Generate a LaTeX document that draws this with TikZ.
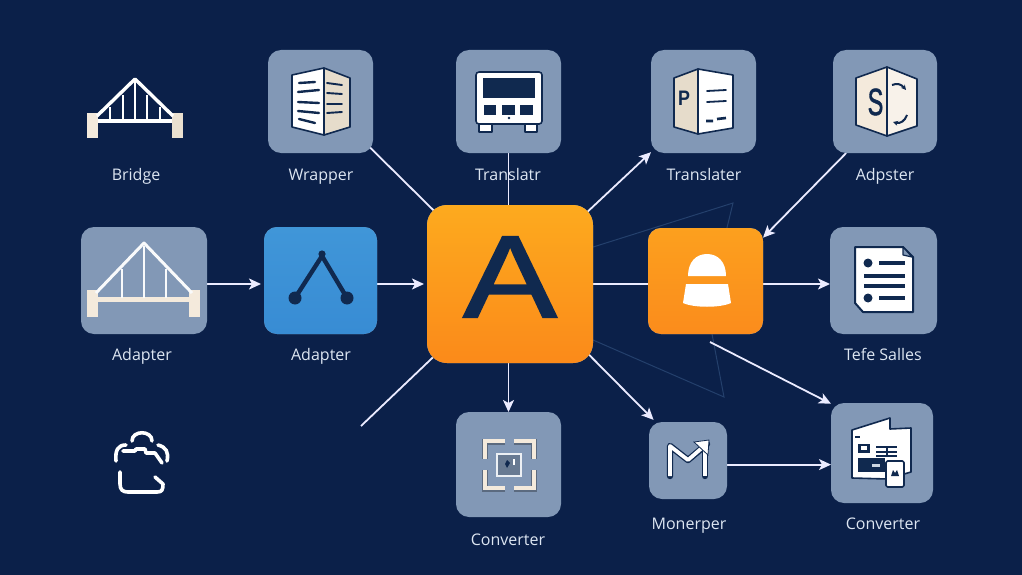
\documentclass[tikz,border=0pt]{standalone}
\usepackage{fontspec}
\setmainfont{Open Sans}
\newfontfamily\bigfont{Liberation Sans}
\newfontfamily\boldico{Liberation Sans}[FakeBold=1.5]
\usetikzlibrary{arrows.meta,backgrounds}
\definecolor{bgnavy}{HTML}{0B2049}
\definecolor{tilegrey}{HTML}{8298B6}
\definecolor{ink}{HTML}{10294F}
\definecolor{cream}{HTML}{F4EADC}
\definecolor{sand}{HTML}{E6DCCB}
\definecolor{labelc}{HTML}{DDE6F2}
\definecolor{faintc}{HTML}{24406C}
\definecolor{bluetop}{HTML}{4096D8}
\definecolor{bluebot}{HTML}{388CD4}
\definecolor{maintop}{HTML}{FDAA1E}
\definecolor{mainbot}{HTML}{FB8A1A}
\definecolor{oratop}{HTML}{FCA01E}
\definecolor{orabot}{HTML}{FB8C1C}
\tikzset{
  x=1pt,y=-1pt,
  tile/.style={rectangle,rounded corners=13pt,inner sep=0pt,outer sep=0pt,fill=tilegrey},
  lbl/.style={text=labelc,font=\fontsize{16}{16}\selectfont,inner sep=0pt,anchor=base},
  conn/.style={draw=white!92!blue,line width=1.8pt},
  arr/.style={conn,-{Stealth[length=12pt,width=11pt,inset=3pt]}},
  faint/.style={draw=faintc,line width=1pt},
  iconline/.style={draw=ink,line width=1.6pt,line join=round},
  inkbar/.style={draw=ink,line width=2.4pt,line cap=round},
}
\begin{document}
\begin{tikzpicture}
\useasboundingbox (0,0) rectangle (1022,575);
% tiles
\node[tile,minimum width=105pt,minimum height=103pt] (wrapper) at (320.5,101.5) {};
\node[tile,minimum width=105pt,minimum height=103pt] (translatr) at (508.5,101.5) {};
\node[tile,minimum width=105pt,minimum height=103pt] (translater) at (703.5,101.5) {};
\node[tile,minimum width=104pt,minimum height=103pt] (adpster) at (885,101.5) {};
\node[tile,minimum width=126pt,minimum height=107pt] (adapterg) at (144,280.5) {};
\node[tile,minimum width=113pt,minimum height=107pt,top color=bluetop,bottom color=bluebot] (adapterb) at (320.5,280.5) {};
\node[tile,rounded corners=20pt,minimum width=166pt,minimum height=158pt,top color=maintop,bottom color=mainbot] (main) at (510,284) {};
\node[tile,minimum width=115pt,minimum height=106pt,top color=oratop,bottom color=orabot] (orange) at (705.5,281) {};
\node[tile,minimum width=107pt,minimum height=107pt] (tefe) at (883.5,280.5) {};
\node[tile,minimum width=105pt,minimum height=105pt] (conva) at (508.5,464.5) {};
\node[tile,minimum width=78pt,minimum height=77pt] (monerper) at (688,460.5) {};
\node[tile,minimum width=102pt,minimum height=100pt] (convb) at (882,453) {};
\coordinate (freeend) at (361,426);
\coordinate (ofree) at (710,342);
\coordinate (ft) at (733,203);
\coordinate (fb) at (724,397);
% everything under the tiles
\begin{scope}[on background layer]
\fill[bgnavy] (0,0) rectangle (1022,575);
\node[lbl] (lbridge) at (136,180) {Bridge};
\node[lbl] (lwrapper) at (321,180) {Wrapper};
\node[lbl] (ltranslatr) at (508,180) {Translatr};
\node[lbl] (ltranslater) at (704,180) {Translater};
\node[lbl] (ladpster) at (885,180) {Adpster};
\node[lbl] (ladapterg) at (142,360) {Adapter};
\node[lbl] (ladapterb) at (321,360) {Adapter};
\node[lbl] (ltefe) at (883,360) {Tefe Salles};
\node[lbl] (lconva) at (508,545) {Converter};
\node[lbl] (lmonerper) at (689,529) {Monerper};
\node[lbl] (lconvb) at (883,529) {Converter};
\draw[faint] (main.24) -- (ft) -- (orange.68);
\draw[faint] (main.-34.5) -- (fb) -- (orange.-83);
\draw[conn,shorten <=-5pt,shorten >=-8pt] (wrapper.-43) -- (main.136);
\draw[conn] (translatr.south) -- (translatr.south |- main.north);
\draw[arr,shorten <=-8pt] (main.43) -- (translater.224.5);
\draw[arr] (adpster.-127) -- (orange.37.4);
\draw[arr,shorten >=3pt] (adapterg.east |- main.center) -- (adapterb.west |- main.center);
\draw[arr,shorten >=3pt] (adapterb.east |- main.center) -- (main.west);
\draw[conn] (main.east) -- (orange.west |- main.center);
\draw[arr] (orange.east |- main.center) -- (tefe.west |- main.center);
\draw[conn,shorten <=-8pt] (main.south west) -- (freeend);
\draw[arr] (main.south -| conva.north) -- (conva.north);
\draw[arr,shorten <=-8pt,shorten >=3pt] (main.-42) -- (monerper.130);
\draw[arr] (ofree) -- (convb.136.8);
\draw[arr] (monerper.-6) -- (monerper.-6 -| convb.west);
\end{scope}

% Bridge icon (no tile)
\fill[cream] (87,113) rectangle (98,138);
\fill[sand!70!cream] (172,113) rectangle (183,138);
\draw[white,line width=3.4pt,line join=round] (97,116) -- (135,79) -- (173,116);
\draw[white,line width=3.2pt] (98,121) -- (172,121);
\foreach \vx/\vy in {110/107,123/95,135/79,147/95,160/107}
  \draw[white,line width=2.4pt] (\vx,\vy) -- (\vx,120);

% Wrapper icon
\filldraw[iconline,fill=white] (292,75) -- (324,68) -- (324,135) -- (292,127) -- cycle;
\filldraw[iconline,fill=sand] (324,68) -- (350,78) -- (350,127) -- (324,135) -- cycle;
\draw[inkbar] (299,83) -- (315,82) (298,92) -- (319,90) (298,102) -- (319,103) (298,111) -- (319,113) (299,119) -- (315,123);
\draw[inkbar,line width=1.9pt] (327,83) -- (342,85) (327,93) -- (342,94) (327,104) -- (342,104) (327,113) -- (342,112);

% Translatr icon
\filldraw[iconline,fill=white] (479,122) rectangle (492,132);
\filldraw[iconline,fill=white] (525,122) rectangle (537,132);
\filldraw[iconline,fill=white,rounded corners=3pt] (476,72) rectangle (542,124);
\fill[ink] (483,78) rectangle (535,98);
\fill[ink] (484,105) rectangle (496,115);
\fill[ink] (502,105) rectangle (515,115);
\fill[ink] (520,105) rectangle (533,115);
\fill[ink] (509,118) circle[radius=1.4pt];

% Translater icon
\filldraw[iconline,fill=sand] (674,78) -- (698,69) -- (698,134) -- (674,127) -- cycle;
\filldraw[iconline,fill=white] (698,69) -- (733,75) -- (733,128) -- (698,134) -- cycle;
\node[text=ink,inner sep=0pt,xscale=.85,font=\bigfont\bfseries\fontsize{21}{21}\selectfont] (pglyph) at (684,98) {P};
\draw[inkbar,line width=1.8pt] (707,91) -- (726,90) (707,102) -- (726,101);
\draw[inkbar,line width=2.6pt,line cap=butt] (706,121) -- (713,121) (717,119) -- (726,118);

% Adpster icon
\filldraw[iconline,fill=cream] (856,78) -- (887,67) -- (887,136) -- (856,125) -- cycle;
\filldraw[iconline,fill=cream!60!white] (887,67) -- (917,79) -- (917,126) -- (887,136) -- cycle;
\node[text=ink,inner sep=0pt,xscale=.62,font=\boldico\fontsize{38}{38}\selectfont] (sglyph) at (875.5,102) {S};
\draw[ink,line width=2pt,-{Stealth[length=5pt,width=5pt]}] (892,85) .. controls (897,83) and (901,84) .. (906,90);
\draw[ink,line width=2pt,-{Stealth[length=5pt,width=5pt]}] (907,115) .. controls (905,121) and (900,124) .. (893,122);

% Adapter grey bridge icon
\fill[cream] (87,290) rectangle (98,317);
\fill[cream] (189,290) rectangle (200,317);
\draw[white!95!tilegrey,line width=3pt,line join=round] (96,293) -- (144,243) -- (192,293);
\draw[cream,line width=5pt] (98,299) -- (189,299);
\foreach \vx/\vy in {122/269,144/246,166/269}
  \draw[white!95!tilegrey,line width=2.6pt] (\vx,\vy) -- (\vx,298);

% Adapter blue icon
\draw[ink,line width=4.4pt,line join=round] (295,298) -- (322,256) -- (347,298);
\fill[ink] (295,298) circle[radius=6.5pt];
\fill[ink] (347,298) circle[radius=6.5pt];
\fill[ink] (322,254) circle[radius=3.6pt];

% Main A
\node[text=ink,inner sep=0pt,xscale=1.2,font=\boldico\fontsize{117}{117}\selectfont] (biga) at (510,277) {A};

% Orange icon
\fill[white] (688,276) .. controls (688,262) and (696,254) .. (707,254) .. controls (718,254) and (726,262) .. (726,276) -- cycle;
\fill[white] (686,284) -- (728,284) -- (731,303) .. controls (720,308) and (694,308) .. (683,303) -- cycle;

% Tefe icon
\filldraw[ink,line width=2pt,fill=white,line join=round] (855,247) -- (903,247) -- (913,257) -- (913,312) -- (863,312) -- (855,303) -- cycle;
\filldraw[iconline,fill=tilegrey,line width=1.2pt] (903,247) -- (903,255) -- (912,257) -- cycle;
\fill[ink] (868,263) circle[radius=4.5pt];
\fill[ink] (868,298) circle[radius=4.5pt];
\draw[ink,line width=3.4pt] (879,263) -- (905,263) (864,276) -- (905,276) (864,286) -- (905,286) (879,298) -- (905,298);

% Converter icon
\begin{scope}[line width=6.6pt,draw=tilegrey!70!black,line cap=butt]
\draw (505,442) -- (485,442) -- (485,459);
\draw (514,442) -- (534,442) -- (534,459);
\draw (505,489) -- (485,489) -- (485,470);
\draw (514,489) -- (534,489) -- (534,470);
\end{scope}
\begin{scope}[line width=4.6pt,draw=cream,line cap=butt]
\draw (505,441) -- (485,441) -- (485,459);
\draw (514,441) -- (534,441) -- (534,459);
\draw (505,488) -- (485,488) -- (485,470);
\draw (514,488) -- (534,488) -- (534,470);
\end{scope}
\filldraw[draw=white!85!tilegrey,line width=1.8pt,fill=tilegrey!80!black] (497,454) rectangle (521,476);
\fill[ink] (507,460) -- (510,463) -- (507,468) -- (505,464) -- cycle;
\fill[white] (513,459) rectangle (515,465);

% Monerper icon
\draw[ink,line width=6.4pt,line join=round,line cap=round] (670,476) -- (670,446) -- (688,460) -- (707,444);
\draw[ink,line width=6.4pt,line cap=round,line join=round] (705,476) -- (705,447);
\draw[white,line width=3.8pt,line join=round] (670,476) -- (670,446) -- (688,460) -- (703,447);
\draw[white,line width=3.8pt] (705,476) -- (705,449);
\filldraw[draw=ink,line width=.8pt,fill=white] (709,440) -- (694,442) -- (708,455) -- cycle;

% Converter 2 icon
\filldraw[iconline,fill=white] (852,430) -- (890,418) -- (890,429) -- (911,428) -- (911,472) -- (887,479) -- (852,478) -- cycle;
\fill[ink] (858,444) rectangle (870,453);
\fill[white] (861,446) rectangle (867,450);
\draw[ink,line width=1.4pt] (876,447) -- (897,447) (876,452) -- (897,452) (876,456) -- (897,456) (887,447) -- (887,456);
\draw[ink,line width=1.4pt] (855,437) -- (860,437);
\fill[ink] (858,458) rectangle (885,472);
\fill[tilegrey!40!white] (872,464) rectangle (880,467);
\filldraw[iconline,fill=white,rounded corners=1.5pt] (886,461) rectangle (904,487);
\fill[ink] (891,476) -- (893,470) -- (895,473) -- (897,470) -- (899,476) -- cycle;

% Bottom-left outline icon
\begin{scope}[draw=white,line width=3.6pt,line cap=round,line join=round]
\draw (132,441) .. controls (132,430) and (152,430) .. (152,441);
\draw (116,461) .. controls (115,450) and (118,445) .. (126,445);
\draw (158,445) .. controls (166,447) and (169,452) .. (167,461);
\draw (123,451) -- (135,451) -- (136,449) -- (145,449) -- (146,453) -- (155,453) -- (162,463);
\draw (120,472) -- (120,484) .. controls (120,490) and (123,492) .. (128,492) -- (157,492) .. controls (162,492) and (163,490) .. (163,484) -- (155,477);
\end{scope}
\end{tikzpicture}
\end{document}
